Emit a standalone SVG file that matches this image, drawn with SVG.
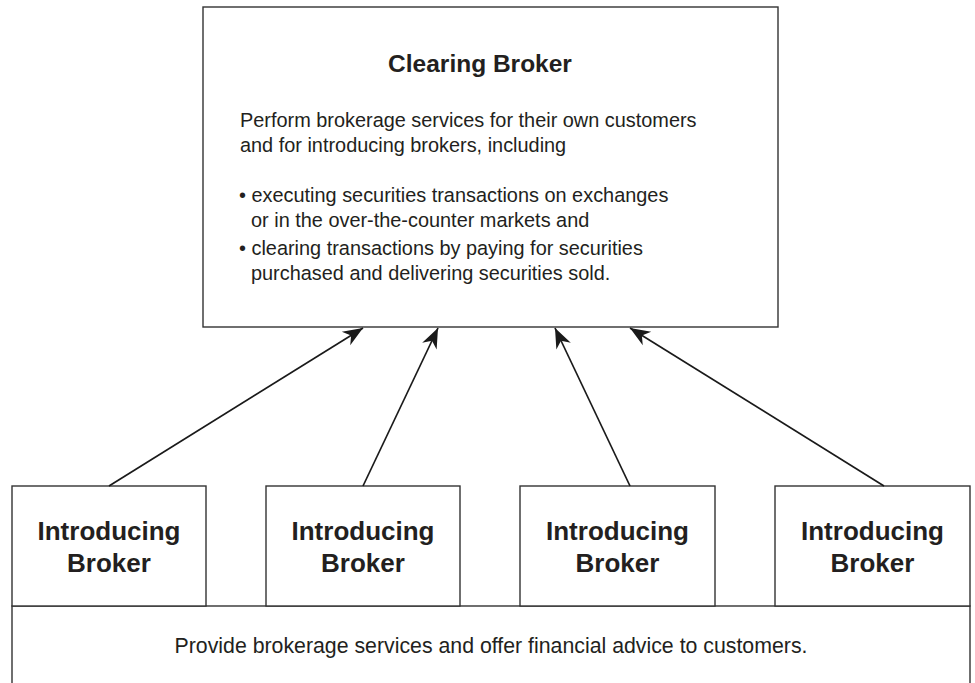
<svg xmlns="http://www.w3.org/2000/svg" width="975" height="683" viewBox="0 0 975 683">
  <defs>
    <style>
      .box { fill: #ffffff; stroke: #333333; stroke-width: 1.4; }
      .conn { stroke: #1a1a1a; stroke-width: 1.7; fill: none; marker-end: url(#arrow); }
      .title { font-family: "Liberation Sans", Arial, sans-serif; font-weight: bold; fill: #231f20; }
      .body { font-family: "Liberation Sans", Arial, sans-serif; fill: #231f20; }
    </style>
    <marker id="arrow" viewBox="-21 -9 22 18" refX="0" refY="0" markerWidth="22" markerHeight="18" markerUnits="userSpaceOnUse" orient="auto">
      <path d="M0,0 L-20,-8 L-14,0 L-20,8 Z" fill="#1a1a1a"/>
    </marker>
  </defs>
  <rect width="975" height="683" fill="#ffffff"/>

  <g id="customers-box">
    <rect class="box" x="12" y="606" width="958" height="90"/>
    <text class="body" x="491" y="653" font-size="21.3" text-anchor="middle">Provide brokerage services and offer financial advice to customers.</text>
  </g>

  <g id="clearing-broker">
    <rect class="box" x="203" y="7" width="575" height="320"/>
    <text class="title" x="480" y="72" font-size="24.5" text-anchor="middle">Clearing Broker</text>
    <text class="body" font-size="19.9">
      <tspan x="240" y="127">Perform brokerage services for their own customers</tspan>
      <tspan x="240" y="152">and for introducing brokers, including</tspan>
      <tspan x="239" y="202">• executing securities transactions on exchanges</tspan>
      <tspan x="251" y="227">or in the over-the-counter markets and</tspan>
      <tspan x="239" y="255">• clearing transactions by paying for securities</tspan>
      <tspan x="251" y="280">purchased and delivering securities sold.</tspan>
    </text>
  </g>

  <g id="introducing-broker-1">
    <rect class="box" x="12" y="486" width="194" height="120"/>
    <text class="title" x="109" y="540" font-size="26" text-anchor="middle">Introducing</text>
    <text class="title" x="109" y="572" font-size="26" text-anchor="middle">Broker</text>
  </g>
  <g id="introducing-broker-2">
    <rect class="box" x="266" y="486" width="194" height="120"/>
    <text class="title" x="363" y="540" font-size="26" text-anchor="middle">Introducing</text>
    <text class="title" x="363" y="572" font-size="26" text-anchor="middle">Broker</text>
  </g>
  <g id="introducing-broker-3">
    <rect class="box" x="520" y="486" width="195" height="120"/>
    <text class="title" x="617.5" y="540" font-size="26" text-anchor="middle">Introducing</text>
    <text class="title" x="617.5" y="572" font-size="26" text-anchor="middle">Broker</text>
  </g>
  <g id="introducing-broker-4">
    <rect class="box" x="775" y="486" width="195" height="120"/>
    <text class="title" x="872.5" y="540" font-size="26" text-anchor="middle">Introducing</text>
    <text class="title" x="872.5" y="572" font-size="26" text-anchor="middle">Broker</text>
  </g>

  <g id="connectors">
    <line class="conn" x1="109" y1="486" x2="363" y2="328"/>
    <line class="conn" x1="363" y1="486" x2="438" y2="328"/>
    <line class="conn" x1="630" y1="486" x2="555" y2="328"/>
    <line class="conn" x1="884" y1="486" x2="630" y2="328"/>
  </g>
</svg>
